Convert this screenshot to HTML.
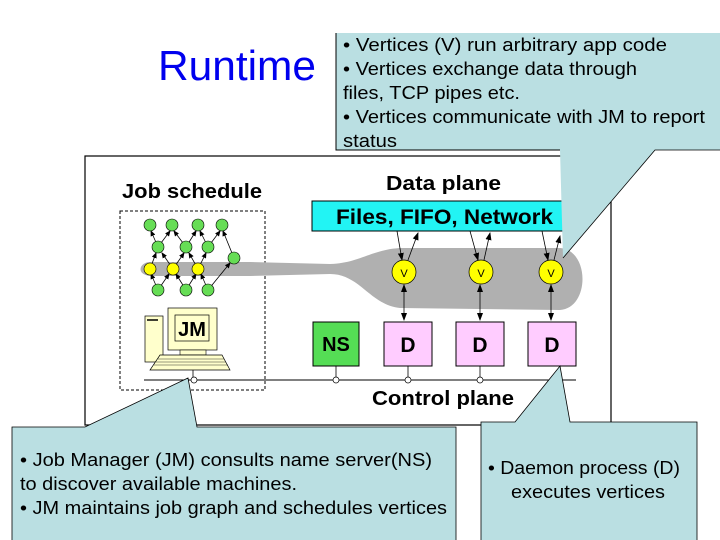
<!DOCTYPE html>
<html><head><style>
html,body{margin:0;padding:0;background:#fff;}
svg{display:block;}
text{font-family:"Liberation Sans",Arial,sans-serif;}
</style></head><body>
<svg width="720" height="540" viewBox="0 0 720 540" xmlns="http://www.w3.org/2000/svg">
<defs>
<marker id="a" markerWidth="8" markerHeight="8" refX="7" refY="4" orient="auto" markerUnits="userSpaceOnUse"><path d="M0,1 L8,4 L0,7 z" fill="#000"/></marker>
<marker id="s" markerWidth="6" markerHeight="6" refX="5" refY="3" orient="auto" markerUnits="userSpaceOnUse"><path d="M0,0.5 L6,3 L0,5.5 z" fill="#000"/></marker>
</defs>
<rect width="720" height="540" fill="#fff"/>
<text x="158" y="80" font-size="42" fill="#0000ee" textLength="158" lengthAdjust="spacingAndGlyphs">Runtime</text>

<rect x="85" y="156" width="526" height="269" fill="#fff" stroke="#000" stroke-width="1.2"/>

<text x="122" y="198" font-size="20" font-weight="bold" textLength="140" lengthAdjust="spacingAndGlyphs">Job schedule</text>
<rect x="120" y="211" width="145" height="179" fill="none" stroke="#000" stroke-dasharray="3,2"/>

<text x="386" y="190" font-size="20" font-weight="bold" textLength="115" lengthAdjust="spacingAndGlyphs">Data plane</text>
<rect x="312" y="201" width="252" height="30" fill="#22f4f4" stroke="#000"/>
<text x="336" y="224" font-size="21" font-weight="bold" textLength="217" lengthAdjust="spacingAndGlyphs">Files, FIFO, Network</text>

<path d="M150,262 C140,262 135,274 150,276 L250,276 L330,274 C360,274 370,305 400,308 L560,310 C590,308 590,250 560,248 L400,248 C370,250 360,263 330,264 L250,262 Z" fill="#b0b0b0"/>

<g stroke="#000" stroke-width="0.8" marker-end="url(#s)">
<line x1="158" y1="247" x2="151" y2="231"/><line x1="158" y1="247" x2="170" y2="231"/>
<line x1="186" y1="247" x2="174" y2="231"/><line x1="186" y1="247" x2="196" y2="231"/>
<line x1="208" y1="247" x2="200" y2="231"/><line x1="208" y1="247" x2="220" y2="231"/>
<line x1="234" y1="258" x2="223" y2="231"/>
<line x1="150" y1="269" x2="156" y2="253"/><line x1="173" y1="269" x2="162" y2="253"/>
<line x1="173" y1="269" x2="184" y2="253"/><line x1="198" y1="269" x2="189" y2="253"/>
<line x1="198" y1="269" x2="206" y2="253"/>
<line x1="158" y1="290" x2="151" y2="274"/><line x1="158" y1="290" x2="169" y2="274"/>
<line x1="186" y1="290" x2="176" y2="274"/><line x1="186" y1="290" x2="196" y2="274"/>
<line x1="208" y1="290" x2="201" y2="274"/><line x1="208" y1="290" x2="230" y2="263"/>
</g>
<g fill="#66dd55" stroke="#000" stroke-width="0.6">
<circle cx="150" cy="225" r="6"/><circle cx="172" cy="225" r="6"/><circle cx="198" cy="225" r="6"/><circle cx="222" cy="225" r="6"/>
<circle cx="158" cy="247" r="6"/><circle cx="186" cy="247" r="6"/><circle cx="208" cy="247" r="6"/>
<circle cx="234" cy="258" r="6"/>
<circle cx="158" cy="290" r="6"/><circle cx="186" cy="290" r="6"/><circle cx="208" cy="290" r="6"/>
</g>
<g fill="#ffff00" stroke="#000" stroke-width="0.6">
<circle cx="150" cy="269" r="6"/><circle cx="173" cy="269" r="6"/><circle cx="198" cy="269" r="6"/>
</g>

<rect x="145" y="316" width="18" height="46" fill="#ffffcc" stroke="#000" stroke-width="0.7"/>
<line x1="147" y1="320" x2="158" y2="320" stroke="#000" stroke-width="1.5"/>
<rect x="168" y="308" width="49" height="42" fill="#ffffcc" stroke="#000" stroke-width="0.7"/>
<rect x="175" y="315" width="34" height="26" fill="#ffffcc" stroke="#000" stroke-width="0.7"/>
<text x="192" y="336" font-size="20" font-weight="bold" text-anchor="middle">JM</text>
<rect x="180" y="350" width="26" height="5" fill="#ffffcc" stroke="#000" stroke-width="0.6"/>
<path d="M160,355 L222,355 L230,370 L150,370 Z" fill="#ffffcc" stroke="#000" stroke-width="0.7"/>
<g stroke="#000" stroke-width="0.4"><line x1="158" y1="359" x2="224" y2="359"/><line x1="156" y1="362" x2="226" y2="362"/><line x1="154" y1="365" x2="228" y2="365"/></g>

<g stroke="#000" stroke-width="0.8" marker-end="url(#a)">
<line x1="397" y1="231" x2="402" y2="260"/><line x1="408" y1="260" x2="418" y2="233"/>
<line x1="470" y1="231" x2="478" y2="260"/><line x1="484" y1="260" x2="490" y2="233"/>
<line x1="542" y1="231" x2="548" y2="260"/><line x1="554" y1="260" x2="560" y2="236"/>
<line x1="404" y1="300" x2="404" y2="320"/><line x1="404" y1="300" x2="404" y2="285"/>
<line x1="480" y1="300" x2="480" y2="320"/><line x1="480" y1="300" x2="480" y2="285"/>
<line x1="551" y1="300" x2="551" y2="320"/><line x1="551" y1="300" x2="551" y2="285"/>
</g>
<g fill="#ffff00" stroke="#000" stroke-width="0.7">
<circle cx="404" cy="272" r="12"/><circle cx="481" cy="272" r="12"/><circle cx="551" cy="272" r="12"/>
</g>
<g font-size="11" text-anchor="middle"><text x="404" y="277">V</text><text x="481" y="277">V</text><text x="551" y="277">V</text></g>

<rect x="313" y="322" width="46" height="44" fill="#55dd55" stroke="#000"/>
<text x="336" y="351" font-size="20" font-weight="bold" text-anchor="middle">NS</text>
<g fill="#ffccff" stroke="#000">
<rect x="384" y="322" width="48" height="44"/><rect x="456" y="322" width="48" height="44"/><rect x="528" y="322" width="48" height="44"/>
</g>
<g font-size="21" font-weight="bold" text-anchor="middle"><text x="408" y="352">D</text><text x="480" y="352">D</text><text x="552" y="352">D</text></g>

<line x1="144" y1="380" x2="576" y2="380" stroke="#000"/>
<g stroke="#000" stroke-width="0.8">
<line x1="193" y1="370" x2="193" y2="380"/><line x1="336" y1="366" x2="336" y2="380"/><line x1="408" y1="366" x2="408" y2="380"/><line x1="480" y1="366" x2="480" y2="380"/>
</g>
<g fill="#fff" stroke="#000" stroke-width="0.7">
<circle cx="194" cy="380" r="3"/><circle cx="336" cy="380" r="3"/><circle cx="408" cy="380" r="3"/><circle cx="480" cy="380" r="3"/>
</g>
<text x="372" y="405" font-size="20" font-weight="bold" textLength="142" lengthAdjust="spacingAndGlyphs">Control plane</text>

<path d="M336,33 L720,33 L720,150 L655,150 L563,258 L560,150 L336,150 Z" fill="#badfe2"/>
<path d="M336,33 L336,150 L560,150" fill="none" stroke="#000"/>
<path d="M720,150 L655,150 L563,258" fill="none" stroke="#000" stroke-width="0.8"/>
<g font-size="18" lengthAdjust="spacingAndGlyphs">
<text x="343" y="51" textLength="324" lengthAdjust="spacingAndGlyphs">• Vertices (V)  run arbitrary app code</text>
<text x="343" y="75" textLength="294" lengthAdjust="spacingAndGlyphs">• Vertices exchange data through</text>
<text x="343" y="99" textLength="177" lengthAdjust="spacingAndGlyphs">files, TCP pipes etc.</text>
<text x="343" y="123" textLength="362" lengthAdjust="spacingAndGlyphs">• Vertices communicate with JM to report</text>
<text x="343" y="147" textLength="54" lengthAdjust="spacingAndGlyphs">status</text>
</g>

<path d="M12,427 L85,427 L188,378 L197,427 L456,427 L456,540 L12,540 Z" fill="#badfe2"/>
<path d="M12,540 L12,427 L85,427 L188,378 L197,427 L456,427 L456,540" fill="none" stroke="#000" stroke-width="0.8"/>
<g font-size="18">
<text x="20" y="466" textLength="412" lengthAdjust="spacingAndGlyphs">• Job Manager (JM) consults name server(NS)</text>
<text x="20" y="490" textLength="277" lengthAdjust="spacingAndGlyphs">to discover available machines.</text>
<text x="20" y="514" textLength="427" lengthAdjust="spacingAndGlyphs">• JM maintains job graph and schedules vertices</text>
</g>

<path d="M481,422 L515,422 L560,366 L570,422 L697,422 L697,540 L481,540 Z" fill="#badfe2"/>
<path d="M481,540 L481,422 L515,422 L560,366 L570,422 L697,422 L697,540" fill="none" stroke="#000" stroke-width="0.8"/>
<g font-size="18">
<text x="488" y="474" textLength="192" lengthAdjust="spacingAndGlyphs">• Daemon process (D)</text>
<text x="511" y="498" textLength="154" lengthAdjust="spacingAndGlyphs">executes vertices</text>
</g>
</svg>
</body></html>
